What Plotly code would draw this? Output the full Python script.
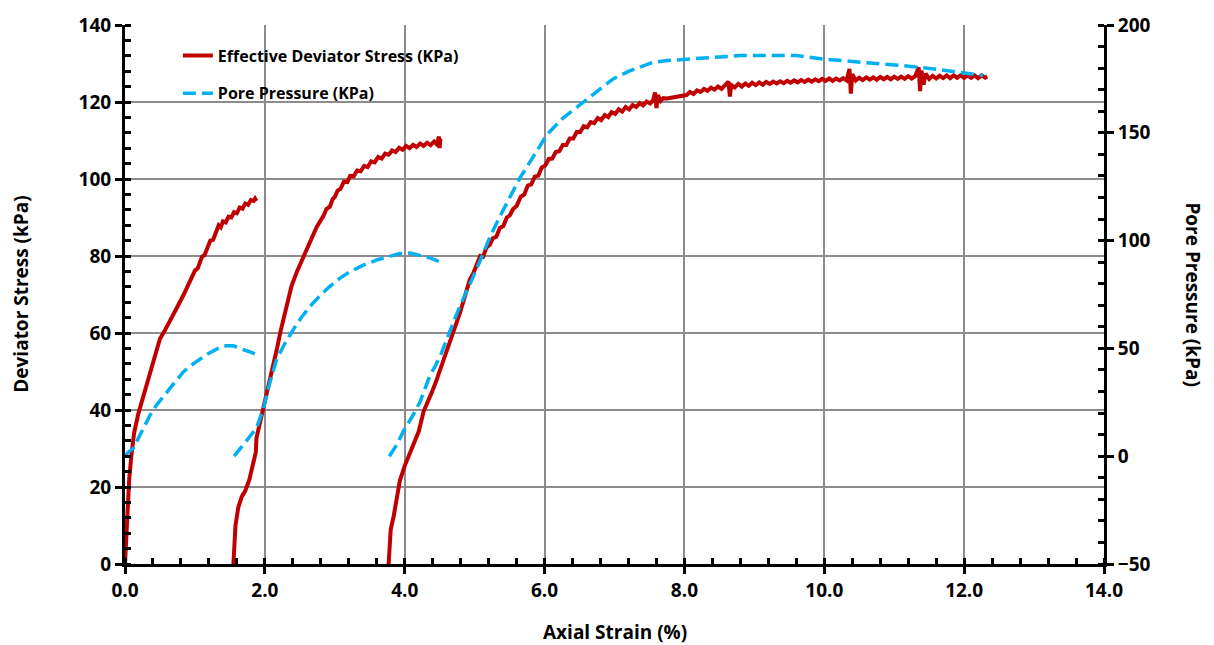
import plotly.graph_objects as go

# ---------------- data ----------------
# Effective deviator stress (kPa) vs axial strain (%), three stages
strain_q1 = [0.0, 0.02, 0.04, 0.06, 0.09, 0.13, 0.19, 0.27, 0.36, 0.44, 0.50, 0.58, 0.66, 0.74,
             0.84, 0.95, 1.00, 1.04, 1.07, 1.10, 1.14, 1.18, 1.22, 1.26, 1.31, 1.34, 1.37, 1.40,
             1.44, 1.48, 1.52, 1.56, 1.60, 1.64, 1.68, 1.72, 1.76, 1.80, 1.84, 1.86, 1.88]
dev_q1 = [0, 8, 16, 22, 28, 34, 39, 44, 49, 54, 58.5, 61, 63.5, 66.5,
          70, 74, 76.2, 76.8, 78, 79.8, 80.3, 82.5, 84.0, 84.2, 86.5, 88.0, 87.5, 89.0,
          88.7, 90.2, 90.0, 91.4, 91.1, 92.6, 92.3, 93.6, 93.3, 94.5, 94.3, 94.9, 94.3]

strain_q2 = [1.55, 1.56, 1.58, 1.62, 1.67, 1.72, 1.78, 1.83, 1.87, 1.88, 1.93, 1.98, 2.05, 2.12,
             2.18, 2.22, 2.30, 2.38, 2.46, 2.55, 2.64, 2.74, 2.84, 2.88, 2.93, 2.97, 3.00, 3.04,
             3.08, 3.13, 3.18, 3.22, 3.27, 3.32, 3.37, 3.42, 3.47, 3.52, 3.57, 3.62, 3.67, 3.72,
             3.77, 3.82, 3.87, 3.92, 3.97, 4.02, 4.07, 4.12, 4.17, 4.22, 4.27, 4.32, 4.37, 4.42,
             4.46, 4.49, 4.50, 4.51, 4.50]
dev_q2 = [0, 5, 10, 14.7, 17.5, 19, 22, 25.9, 29, 32.7, 36.5, 40.4, 46, 51.5,
          56.5, 60.1, 66, 72.1, 76, 79.8, 83.5, 87.5, 90.5, 92.2, 92.8, 94.8, 95.3, 97.0,
          97.4, 99.3, 99.2, 100.8, 100.7, 102.2, 102.0, 103.4, 103.1, 104.6, 104.3, 105.7, 105.3, 106.6,
          106.3, 107.4, 107.0, 108.1, 107.6, 108.6, 108.0, 108.9, 108.3, 109.2, 108.6, 109.4, 108.8, 109.7,
          109.0, 111.0, 108.0, 110.5, 109.5]

strain_q3 = [3.77, 3.78, 3.80, 3.84, 3.89, 3.93, 4.00, 4.08, 4.14, 4.20, 4.27, 4.33, 4.39, 4.45,
             4.51, 4.58, 4.65, 4.72, 4.79, 4.86, 4.93, 4.98,
             5.03, 5.08, 5.12, 5.17, 5.22, 5.26, 5.31, 5.36, 5.41, 5.46, 5.50, 5.55, 5.60, 5.66,
             5.71, 5.76, 5.81, 5.86, 5.91, 5.96, 6.01, 6.06, 6.11, 6.16, 6.21, 6.26, 6.31, 6.36,
             6.41, 6.46, 6.51, 6.56, 6.61, 6.66, 6.71, 6.76, 6.81, 6.86, 6.91, 6.96, 7.01, 7.06,
             7.11, 7.16, 7.21, 7.26, 7.31, 7.36, 7.41, 7.46, 7.51, 7.55, 7.58, 7.60, 7.62, 7.66,
             7.70, 7.75,
             8.03, 8.08, 8.13, 8.18, 8.23, 8.28, 8.33, 8.38, 8.43, 8.48, 8.53, 8.58, 8.63, 8.65,
             8.67, 8.72, 8.77, 8.82, 8.87, 8.92, 8.97, 9.02, 9.07, 9.12, 9.17, 9.22, 9.27, 9.32,
             9.37, 9.42, 9.47, 9.52, 9.57, 9.62, 9.67, 9.72, 9.77, 9.82, 9.87, 9.92, 9.97, 10.02,
             10.07, 10.12, 10.17, 10.22, 10.27, 10.32, 10.36, 10.38, 10.40, 10.45, 10.50, 10.55,
             10.60, 10.65, 10.70, 10.75, 10.80, 10.85, 10.90, 10.95, 11.00, 11.05, 11.10, 11.15,
             11.20, 11.25, 11.30, 11.35, 11.37, 11.39, 11.42, 11.45, 11.50, 11.55, 11.60, 11.65,
             11.70, 11.75, 11.80, 11.85, 11.90, 11.95, 12.00, 12.05, 12.10, 12.15, 12.20, 12.25,
             12.30, 12.33]
dev_q3 = [0, 4, 9, 12.2, 17.3, 21.6, 25.5, 29.3, 32, 34.4, 39.6, 42, 44.7, 47.5,
          50.7, 54, 57.5, 61.5, 65.2, 69.5, 73.8, 75.5,
          78.1, 80.0, 79.8, 82.2, 83.0, 84.6, 85.0, 87.3, 87.8, 90.0, 90.5, 92.2, 93.0, 95.4,
          96.0, 98.3, 98.6, 100.6, 100.9, 103.0, 103.5, 105.2, 105.3, 107.0, 107.2, 108.8, 108.8, 110.5,
          110.5, 112.2, 112.2, 113.7, 113.4, 114.8, 114.5, 115.8, 115.3, 116.6, 116.1, 117.4, 116.9, 118.1,
          117.5, 118.7, 118.1, 119.2, 118.7, 119.7, 119.1, 120.1, 119.6, 120.4, 122.5, 118.4, 121.8, 120.3,
          121.0, 120.9,
          121.8, 122.6, 122.1, 123.0, 122.6, 123.4, 122.9, 123.7, 123.2, 124.0, 123.4, 124.2, 125.3, 121.4,
          124.4, 123.8, 124.7, 124.0, 124.8, 124.2, 125.0, 124.4, 125.1, 124.5, 125.2, 124.7, 125.3, 124.8,
          125.4, 124.9, 125.5, 125.0, 125.6, 125.1, 125.7, 125.2, 125.8, 125.3, 125.9, 125.4, 126.0, 125.5,
          126.1, 125.5, 126.1, 125.6, 126.2, 125.6, 128.6, 122.2, 127.2, 125.6, 126.3, 125.7,
          126.4, 125.8, 126.4, 125.8, 126.5, 125.9, 126.5, 125.9, 126.6, 126.0, 126.6, 126.0,
          126.7, 126.1, 126.7, 129.0, 122.8, 128.2, 124.5, 127.4, 126.0, 126.8, 126.1, 126.8,
          126.2, 126.9, 126.2, 126.9, 126.3, 126.9, 126.3, 126.9, 126.3, 126.9, 126.2, 126.9,
          126.3, 126.6]

# Pore pressure (kPa) vs axial strain (%), three stages
strain_u1 = [0.0, 0.05, 0.12, 0.20, 0.28, 0.36, 0.45, 0.60, 0.72, 0.83, 0.95, 1.07, 1.20, 1.36,
             1.45, 1.55, 1.65, 1.74, 1.82, 1.88]
pore_u1 = [0, 2, 3.8, 9, 14.5, 19.1, 23.7, 29.8, 34.8, 39, 42.3, 45.1, 47.8, 50.5,
           51.2, 51.2, 50.2, 48.9, 48.0, 47.1]

strain_u2 = [1.56, 1.70, 1.80, 1.88, 1.98, 2.07, 2.17, 2.29, 2.41, 2.53, 2.65, 2.79, 2.93, 3.07,
             3.22, 3.40, 3.60, 3.78, 3.93, 4.08, 4.22, 4.36, 4.50]
pore_u2 = [0, 5.5, 10, 13, 22.2, 34, 45.1, 52.5, 58.9, 64.7, 69.6, 74.6, 78.8, 82.5,
           85.6, 88.5, 91, 92.5, 94, 94.2, 93.3, 92, 90.2]

strain_u3 = [3.78, 3.88, 3.98, 4.05, 4.12, 4.22, 4.29, 4.36, 4.44, 4.51, 4.58, 4.65, 4.72, 4.79,
             4.88, 4.98, 5.07, 5.22, 5.35, 5.50, 5.65, 5.85, 6.03, 6.25, 6.50, 6.75, 6.98, 7.20,
             7.40, 7.55, 7.75, 7.94, 8.22, 8.55, 8.79, 9.20, 9.60, 9.98, 10.35, 10.70, 11.10,
             11.47, 11.90, 12.27]
pore_u3 = [0, 5, 11.5, 15, 19.1, 25.2, 31, 37.4, 42, 46.6, 52.5, 58.8, 64, 69.6,
           76.5, 83.3, 90, 101.7, 110.5, 120.0, 129.2, 139.5, 149.0, 156.5, 162.8, 169.5, 175.0, 178.5,
           181.0, 182.7, 183.5, 183.9, 184.5, 185.4, 185.8, 185.9, 185.8, 184.2, 183.3, 182.4, 181.2,
           180.0, 178.3, 176.6]

# x ticks
x_tickvals = [0, 2, 4, 6, 8, 10, 12, 14]
x_ticktext = ["0.0", "2.0", "4.0", "6.0", "8.0", "10.0", "12.0", "14.0"]


def join(*segs):
    out = []
    for i, s in enumerate(segs):
        if i:
            out.append(None)
        out.extend(s)
    return out


RED = "#C00000"
BLUE = "#00B0F0"
FONT = "Open Sans"

fig = go.Figure()
fig.add_trace(go.Scatter(
    x=join(strain_q1, strain_q2, strain_q3),
    y=join(dev_q1, dev_q2, dev_q3),
    mode="lines", name="Effective Deviator Stress (KPa)",
    line=dict(color=RED, width=4), connectgaps=False,
    legendgroup="a", yaxis="y"))
fig.add_trace(go.Scatter(
    x=join(strain_u1, strain_u2, strain_u3),
    y=join(pore_u1, pore_u2, pore_u3),
    mode="lines", name="Pore Pressure (KPa)",
    line=dict(color=BLUE, width=3.5, dash="13px,6px"), connectgaps=False,
    legendgroup="b", yaxis="y2"))

tickfont = dict(family=FONT, size=19, color="black", weight="bold")
GRID = "#8C8C8C"

fig.update_layout(
    width=1214, height=645,
    margin=dict(l=125, r=110, t=19, b=81),
    plot_bgcolor="white", paper_bgcolor="white",
    font=dict(family=FONT, color="black"),
    showlegend=True,
    legend=dict(x=0.054, y=0.975, xanchor="left", yanchor="top",
                bgcolor="rgba(255,255,255,0)", tracegroupgap=14,
                font=dict(family=FONT, size=16, color="black", weight="bold")),
    xaxis=dict(range=[0, 14], tickvals=x_tickvals, ticktext=x_ticktext,
               showgrid=True, gridcolor=GRID, gridwidth=1.5,
               showline=True, linecolor="black", linewidth=3,
               ticks="outside", ticklen=7, tickwidth=3, tickcolor="black",
               minor=dict(dtick=0.4, ticks="inside", ticklen=6, tickwidth=3,
                          tickcolor="black", showgrid=False),
               tickfont=tickfont, zeroline=False),
    yaxis=dict(range=[0, 140], dtick=20,
               showgrid=True, gridcolor=GRID, gridwidth=1.5,
               showline=True, linecolor="black", linewidth=3,
               ticks="outside", ticklen=7, tickwidth=3, tickcolor="black",
               minor=dict(dtick=4, ticks="inside", ticklen=6, tickwidth=3,
                          tickcolor="black", showgrid=False),
               tickfont=tickfont, zeroline=False),
    yaxis2=dict(range=[-50, 200], dtick=50, overlaying="y", side="right",
                showgrid=False, showline=True, linecolor="black", linewidth=3,
                ticks="outside", ticklen=7, tickwidth=3, tickcolor="black",
                minor=dict(dtick=10, ticks="inside", ticklen=6, tickwidth=3,
                           tickcolor="black", showgrid=False),
                tickfont=tickfont, zeroline=False),
    annotations=[
        dict(text="Axial Strain (%)", xref="paper", yref="paper", x=0.5, y=-0.127,
             xanchor="center", yanchor="middle", showarrow=False,
             font=dict(family=FONT, size=19, color="black", weight="bold")),
        dict(text="Deviator Stress (kPa)", xref="paper", yref="paper", x=-0.107, y=0.5,
             xanchor="center", yanchor="middle", showarrow=False, textangle=-90,
             font=dict(family=FONT, size=19, color="black", weight="bold")),
        dict(text="Pore Pressure (kPa)", xref="paper", yref="paper", x=1.091, y=0.5,
             xanchor="center", yanchor="middle", showarrow=False, textangle=90,
             font=dict(family=FONT, size=19, color="black", weight="bold")),
    ],
)

fig.write_html("out.html", config={"displayModeBar": False},
               post_script="document.body.style.margin='0px';")
